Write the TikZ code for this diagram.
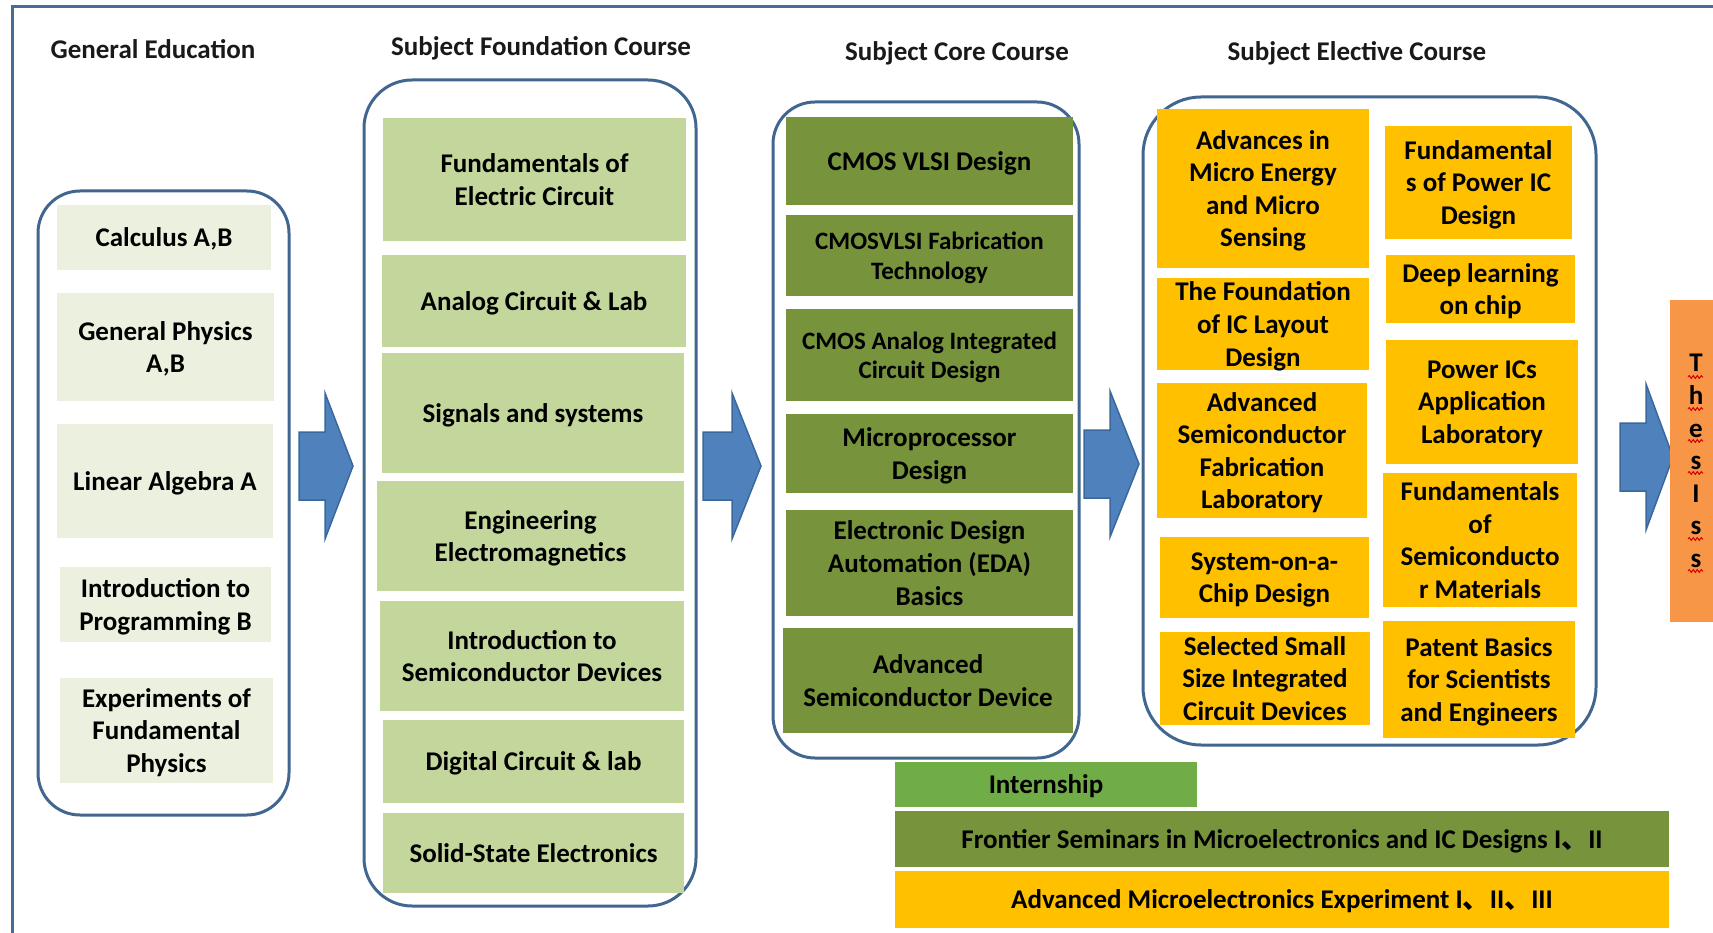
\documentclass[tikz,border=0pt]{standalone}
\usepackage{fontspec}
\setmainfont{Carlito}
\newfontfamily\cjk{Noto Sans CJK SC}
\usetikzlibrary{decorations.pathmorphing}
\definecolor{frameblue}{HTML}{4A6C94}
\definecolor{groupblue}{HTML}{41668F}
\definecolor{arrowblue}{HTML}{4F81BD}
\definecolor{arrowedge}{HTML}{3B689C}
\definecolor{genpale}{HTML}{EBF1DE}
\definecolor{foundgreen}{HTML}{C3D69B}
\definecolor{coregreen}{HTML}{77933C}
\definecolor{electgold}{HTML}{FFC000}
\definecolor{thesisorange}{HTML}{F79646}
\definecolor{interngreen}{HTML}{70AD47}
\tikzstyle{every node}=[font=\bfseries\fontsize{27}{32.6}\selectfont,text depth=-1pt]
\tikzstyle{course}=[rectangle,inner sep=0pt,align=center,text=black]
\tikzstyle{general}=[course,fill=genpale]
\tikzstyle{found}=[course,fill=foundgreen]
\tikzstyle{core}=[course,fill=coregreen]
\tikzstyle{narrow}=[font=\bfseries\fontsize{25}{29.5}\selectfont]
\tikzstyle{elect}=[course,fill=electgold]
\tikzstyle{group}=[draw=groupblue,line width=3]
\tikzstyle{header}=[text=black!90]
\tikzstyle{bigarrow}=[fill=arrowblue,draw=arrowedge,line width=1.5]
\tikzstyle{squiggle}=[red!85!black,line width=1,decorate,
  decoration={snake,amplitude=1.4,segment length=4}]

\begin{document}
\begin{tikzpicture}[x=1pt,y=-1pt]
    \useasboundingbox (0,0) rectangle (1713,933);
    \clip (0,0) rectangle (1713,933);
    \draw[draw=frameblue,line width=3] (12,7) rectangle (1760,980);
    % groups
    \draw[group,rounded corners=42] (38,191) rectangle (289,815);
    \draw[group,rounded corners=48] (364,80) rectangle (696,906);
    \draw[group,rounded corners=42] (773,102) rectangle (1079,758);
    \draw[group,rounded corners=58] (1143,97) rectangle (1596,745);
    % headers
    \node[header] (hgen) at (153,49) {General Education};
    \node[header] (hfound) at (541,46) {Subject Foundation Course};
    \node[header] (hcore) at (957,51) {Subject Core Course};
    \node[header] (helect) at (1357,51) {Subject Elective Course};
    % general education
    \node[general,minimum width=214,minimum height=65] (calc) at (164,237.5) {Calculus A,B};
    \node[general,minimum width=217,minimum height=108] (phys) at (165.5,347) {General Physics\\A,B};
    \node[general,minimum width=216,minimum height=114] (linalg) at (165,481) {Linear Algebra A};
    \node[general,minimum width=211,minimum height=75] (prog) at (165.5,604.5) {Introduction to\\Programming B};
    \node[general,minimum width=213,minimum height=105] (expt) at (166.5,730.5) {Experiments of\\Fundamental\\Physics};
    % subject foundation
    \node[found,minimum width=303,minimum height=123] (fec) at (534.5,179.5) {Fundamentals of\\Electric Circuit};
    \node[found,minimum width=304,minimum height=92] (acl) at (534,301) {Analog Circuit \& Lab};
    \node[found,minimum width=302,minimum height=120] (sas) at (533,413) {Signals and systems};
    \node[found,minimum width=307,minimum height=110] (eem) at (530.5,536) {Engineering\\Electromagnetics};
    \node[found,minimum width=304,minimum height=110] (isd) at (532,656) {Introduction to\\Semiconductor Devices};
    \node[found,minimum width=301,minimum height=83] (dcl) at (533.5,761.5) {Digital Circuit \& lab};
    \node[found,minimum width=301,minimum height=80] (sse) at (533.5,853) {Solid-State Electronics};
    % subject core
    \node[core,minimum width=287,minimum height=88] (cvd) at (929.5,161) {CMOS VLSI Design};
    \node[core,narrow,minimum width=287,minimum height=81] (cft) at (929.5,255.5) {CMOSVLSI Fabrication\\Technology};
    \node[core,narrow,minimum width=287,minimum height=92] (cai) at (929.5,355) {CMOS Analog Integrated\\Circuit Design};
    \node[core,minimum width=287,minimum height=79] (mpd) at (929.5,453.5) {Microprocessor\\Design};
    \node[core,minimum width=287,minimum height=106] (eda) at (929.5,563) {Electronic Design\\Automation (EDA)\\Basics};
    \node[core,minimum width=290,minimum height=105] (asd) at (928,680.5) {Advanced\\Semiconductor Device};
    % subject elective
    \node[elect,minimum width=212,minimum height=159] (ame) at (1263,188.5) {Advances in\\Micro Energy\\and Micro\\Sensing};
    \node[elect,minimum width=212,minimum height=92] (icl) at (1263,324) {The Foundation\\of IC Layout\\Design};
    \node[elect,minimum width=210,minimum height=135] (asf) at (1262,450.5) {Advanced\\Semiconductor\\Fabrication\\Laboratory};
    \node[elect,minimum width=209,minimum height=81] (soc) at (1264.5,577.5) {System-on-a-\\Chip Design};
    \node[elect,minimum width=210,minimum height=93] (ssi) at (1265,678.5) {Selected Small\\Size Integrated\\Circuit Devices};
    \node[elect,minimum width=187,minimum height=113] (fpi) at (1478.5,182.5) {Fundamental\\s of Power IC\\Design};
    \node[elect,minimum width=189,minimum height=68] (dlc) at (1480.5,289) {Deep learning\\on chip};
    \node[elect,minimum width=192,minimum height=124] (pia) at (1482,402) {Power ICs\\Application\\Laboratory};
    \node[elect,minimum width=194,minimum height=134] (fsm) at (1480,540) {Fundamentals\\of\\Semiconducto\\r Materials};
    \node[elect,minimum width=192,minimum height=117] (pbs) at (1479,679.5) {Patent Basics\\for Scientists\\and Engineers};
    % block arrows
    \foreach \xa/\xb/\xc/\yc in {299/325/353/466,703/732/761/466,1084/1110/1139/464,1620/1646/1673/457}
      \draw[bigarrow] (\xa,{\yc-34}) -- (\xb,{\yc-34}) -- (\xb,{\yc-73}) -- (\xc,\yc)
        -- (\xb,{\yc+73}) -- (\xb,{\yc+34}) -- (\xa,{\yc+34}) -- cycle;
    % thesis
    \node[course,fill=thesisorange,minimum width=52,minimum height=322] (thesis) at (1696,461) {T\\h\\e\\s\\I\\s\\s};
    \foreach \yy in {377,409,441,473,539,571}
      \draw[squiggle] (1688,\yy) -- (1703,\yy);
    % practice
    \node[course,fill=interngreen,minimum width=302,minimum height=45] (intern) at (1046,784.5) {Internship};
    \node[core,minimum width=774,minimum height=56] (frontier) at (1282,839) {Frontier Seminars in Microelectronics and IC Designs I{\cjk 、}II};
    \node[elect,minimum width=774,minimum height=57] (amexp) at (1282,899.5) {Advanced Microelectronics Experiment I{\cjk 、}II{\cjk 、}III};
\end{tikzpicture}
\end{document}
